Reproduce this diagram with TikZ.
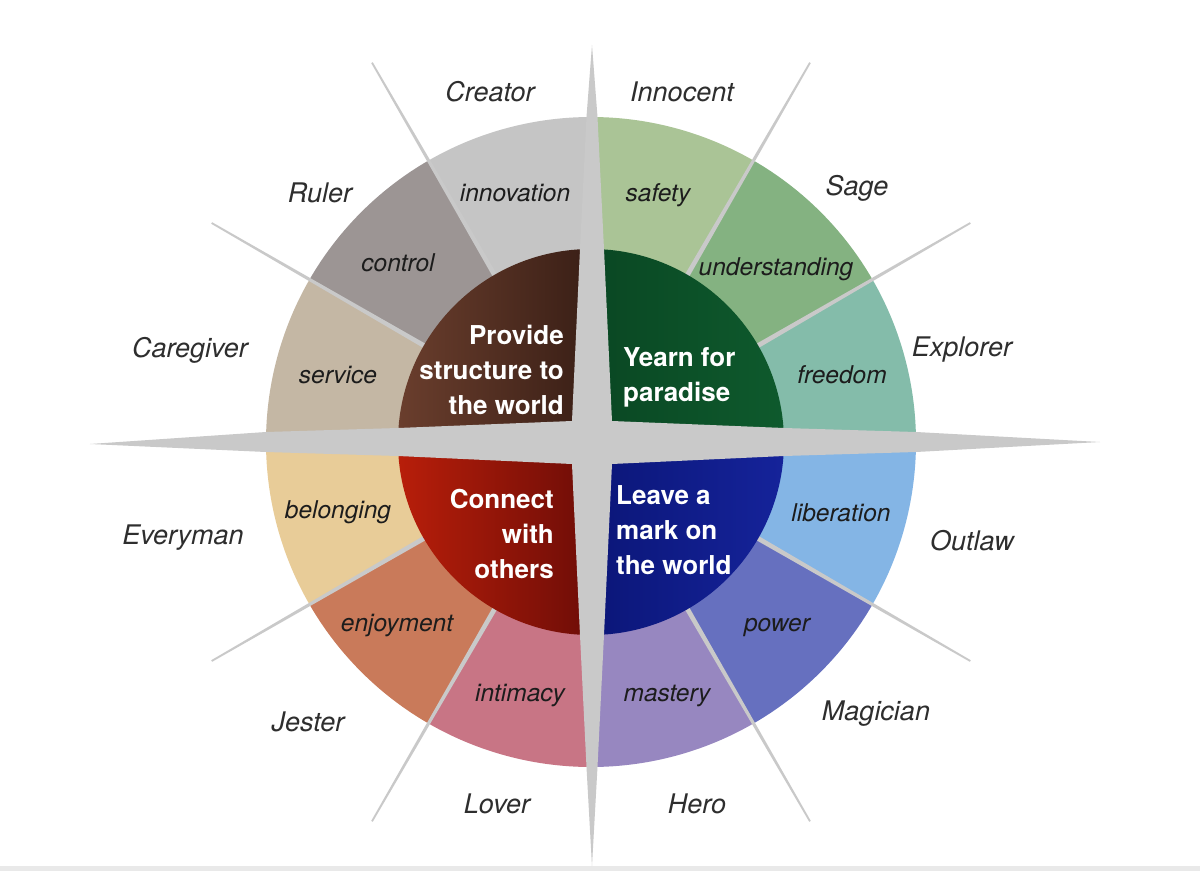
\documentclass[tikz,border=0pt]{standalone}
\usepackage{fontspec}
\setmainfont{TeX Gyre Heros}
\usetikzlibrary{calc}
\definecolor{starc}{HTML}{C9C9C9}
\definecolor{outc}{HTML}{2E2E2E}
\definecolor{innc}{HTML}{1C1C1C}
\definecolor{cInnov}{HTML}{C5C5C5}
\definecolor{cControl}{HTML}{9C9594}
\definecolor{cService}{HTML}{C4B7A4}
\definecolor{cBelong}{HTML}{E8CC98}
\definecolor{cEnjoy}{HTML}{C97A5A}
\definecolor{cIntim}{HTML}{C87585}
\definecolor{cMastery}{HTML}{9787C0}
\definecolor{cPower}{HTML}{6670BF}
\definecolor{cLiber}{HTML}{84B5E5}
\definecolor{cFreedom}{HTML}{84BCAA}
\definecolor{cUnder}{HTML}{84B281}
\definecolor{cSafety}{HTML}{AAC496}
\definecolor{brownL}{HTML}{6A3E2D}
\definecolor{brownD}{HTML}{3A1F16}
\definecolor{greenL}{HTML}{0E5A2D}
\definecolor{greenD}{HTML}{0A4723}
\definecolor{redL}{HTML}{B81E0A}
\definecolor{redD}{HTML}{6E0D07}
\definecolor{blueL}{HTML}{0B1678}
\definecolor{blueD}{HTML}{15239A}
\definecolor{bandc}{HTML}{E9E9E9}
\begin{document}
\begin{tikzpicture}[x=1pt,y=1pt,
  outerlab/.style={font=\fontsize{27}{27}\selectfont\itshape, text=outc, inner sep=0pt},
  innerlab/.style={font=\fontsize{24.5}{24.5}\selectfont\itshape, text=innc, inner sep=0pt},
  corelab/.style={font=\fontsize{26}{35}\selectfont\bfseries, text=white, inner sep=0pt},
  sepline/.style={fill=starc},
]
\useasboundingbox (-591,-429) rectangle (609,442);
\fill[white] (-591,-429) rectangle (609,442);
\fill[bandc] (-591,-429) rectangle (609,-424);

% outer sectors
\foreach \a/\c in {90/cSafety,60/cUnder,30/cFreedom,0/cLiber,-30/cPower,-60/cMastery,-90/cIntim,-120/cEnjoy,-150/cBelong,-180/cService,-210/cControl,-240/cInnov}{
  \fill[\c] (0,0) -- (\a:325) arc[start angle=\a, end angle=\a-30, radius=325] -- cycle;
}
% separator lines (tapered)
\foreach \a in {60,30,-30,-60,-120,-150,150,120}{
  \fill[sepline] ($(\a:190)+(\a+90:2.4)$) -- ($(\a:438)+(\a+90:0.9)$) -- ($(\a:438)+(\a-90:0.9)$) -- ($(\a:190)+(\a-90:2.4)$) -- cycle;
}
% inner quadrants
\shade[left color=brownL, right color=brownD] (0,0) -- (90:193) arc[start angle=90, end angle=180, radius=193] -- cycle;
\shade[left color=greenD, right color=greenL] (0,0) -- (0:193) arc[start angle=0, end angle=90, radius=193] -- cycle;
\shade[left color=redL, right color=redD] (0,0) -- (180:193) arc[start angle=180, end angle=270, radius=193] -- cycle;
\shade[left color=blueL, right color=blueD] (0,0) -- (270:193) arc[start angle=270, end angle=360, radius=193] -- cycle;

% star
\fill[starc] (1,397) -- (6.5,325) -- (13,193) -- (21,21) -- (193,14) -- (325,10) -- (509,0)
  -- (325,-10) -- (193,-14) -- (21,-22) -- (13,-193) -- (6.5,-325) -- (1,-424)
  -- (-4.5,-325) -- (-11,-193) -- (-19,-22) -- (-193,-14) -- (-325,-10) -- (-501,-2)
  -- (-325,10) -- (-193,14) -- (-19,21) -- (-11,193) -- (-4.5,325) -- cycle;

% core texts
\node[corelab, align=right, anchor=east] (q1) at (-27,72) {Provide\\structure to\\the world};
\node[corelab, align=left, anchor=west] (q2) at (32,65) {Yearn for\\paradise};
\node[corelab, align=right, anchor=east] (q3) at (-37,-92) {Connect\\with\\others};
\node[corelab, align=left, anchor=west] (q4) at (25,-88) {Leave a\\mark on\\the world};

% inner labels
\node[innerlab] (i1) at (-76,249) {innovation};
\node[innerlab] (i2) at (67,247) {safety};
\node[innerlab] (i3) at (185,173) {understanding};
\node[innerlab] (i4) at (251,67) {freedom};
\node[innerlab] (i5) at (250,-71) {liberation};
\node[innerlab] (i6) at (186,-186) {power};
\node[innerlab] (i7) at (76,-254) {mastery};
\node[innerlab] (i8) at (-71,-254) {intimacy};
\node[innerlab] (i9) at (-194,-184) {enjoyment};
\node[innerlab] (i10) at (-253,-70) {belonging};
\node[innerlab] (i11) at (-253,67) {service};
\node[innerlab] (i12) at (-193,179) {control};

% outer labels
\node[outerlab] (o1) at (-101,350) {Creator};
\node[outerlab] (o2) at (91,350) {Innocent};
\node[outerlab] (o3) at (266,254) {Sage};
\node[outerlab] (o4) at (371,92) {Explorer};
\node[outerlab] (o5) at (381,-99) {Outlaw};
\node[outerlab] (o6) at (285,-272) {Magician};
\node[outerlab] (o7) at (106,-362) {Hero};
\node[outerlab] (o8) at (-94,-362) {Lover};
\node[outerlab] (o9) at (-283,-280) {Jester};
\node[outerlab] (o10) at (-408,-96) {Everyman};
\node[outerlab] (o11) at (-401,92) {Caregiver};
\node[outerlab] (o12) at (-271,249) {Ruler};
\end{tikzpicture}
\end{document}
